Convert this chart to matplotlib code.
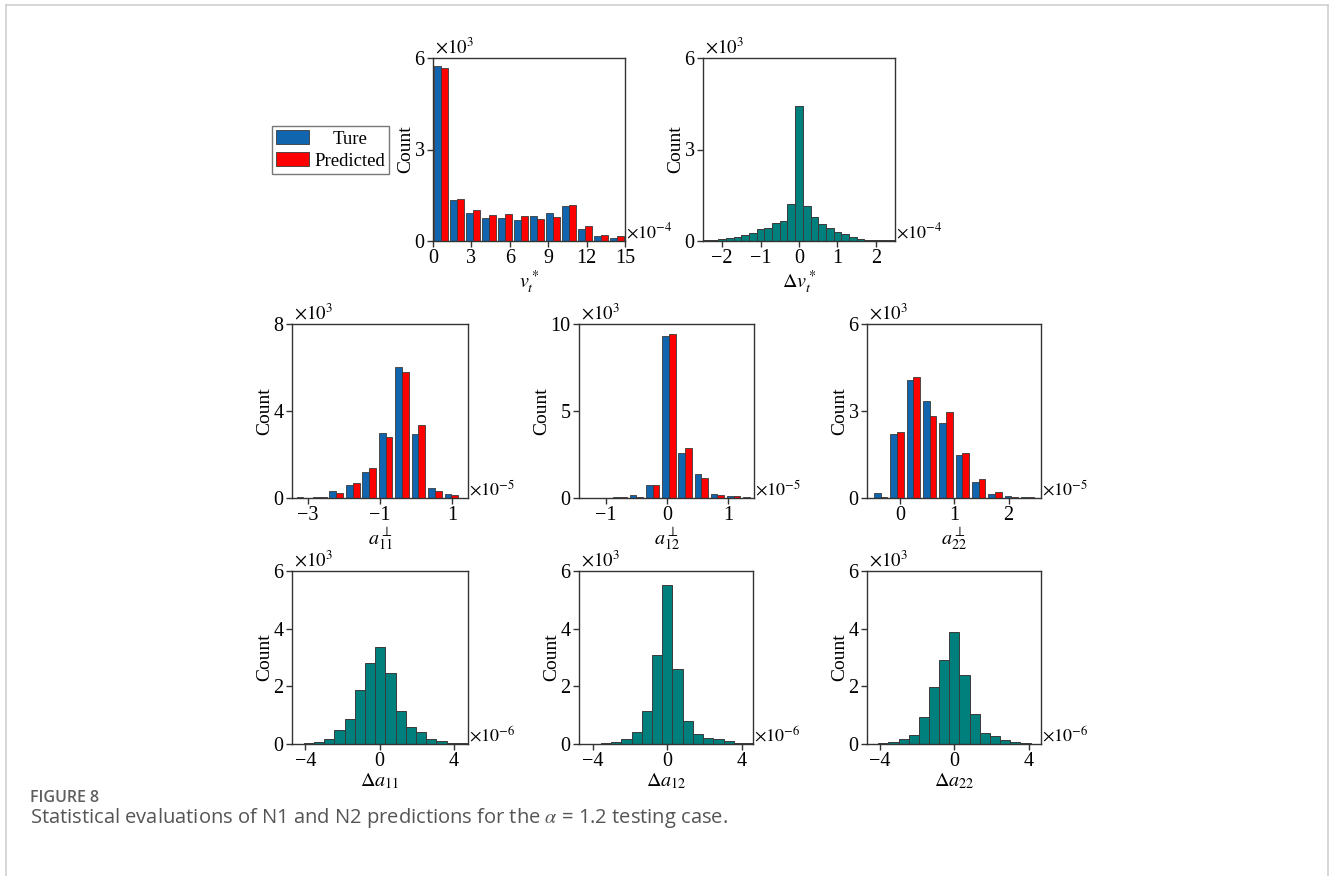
import numpy as np
import matplotlib
matplotlib.use('Agg')
import matplotlib.pyplot as plt
from matplotlib.lines import Line2D
import matplotlib.transforms as mtransforms

plt.rcParams['font.family'] = ['Liberation Serif', 'DejaVu Serif']
plt.rcParams['mathtext.fontset'] = 'stix'
plt.rcParams['font.size'] = 14

W, H = 1330, 876

# ---------------- data (counts in units of 10^3) ----------------
vt_centers = [0.625, 1.875, 3.125, 4.375, 5.625, 6.875, 8.125, 9.375, 10.625, 11.875, 13.125, 14.375]
vt_true = [5.73, 1.36, 0.91, 0.77, 0.74, 0.70, 0.81, 0.91, 1.14, 0.39, 0.15, 0.11]
vt_pred = [5.68, 1.37, 1.02, 0.85, 0.90, 0.82, 0.72, 0.79, 1.17, 0.49, 0.19, 0.17]
vt_binw = 1.25

dvt_centers = [-2.4, -2.2, -2.0, -1.8, -1.6, -1.4, -1.2, -1.0, -0.8, -0.6, -0.4, -0.2, 0.0,
               0.2, 0.4, 0.6, 0.8, 1.0, 1.2, 1.4, 1.6, 1.8, 2.0, 2.2, 2.4]
dvt_counts = [0.02, 0.04, 0.07, 0.10, 0.14, 0.20, 0.25, 0.39, 0.42, 0.58, 0.65, 1.21, 4.44,
              1.15, 0.79, 0.57, 0.42, 0.30, 0.23, 0.13, 0.08, 0.04, 0.04, 0.03, 0.03]
dvt_binw = 0.2

a11_centers = [-3.116, -2.662, -2.208, -1.754, -1.300, -0.846, -0.392, 0.062, 0.516, 0.970]
a11_true = [0.03, 0.03, 0.31, 0.58, 1.21, 3.01, 6.02, 2.92, 0.46, 0.17]
a11_pred = [0.02, 0.03, 0.25, 0.68, 1.40, 2.80, 5.81, 3.35, 0.34, 0.15]
a11_binw = 0.454

a12_centers = [-1.303, -1.037, -0.771, -0.505, -0.239, 0.027, 0.293, 0.559, 0.825, 1.091, 1.357]
a12_true = [0.0, 0.01, 0.03, 0.15, 0.77, 9.31, 2.59, 1.36, 0.23, 0.14, 0.03]
a12_pred = [0.0, 0.01, 0.06, 0.08, 0.75, 9.40, 2.90, 1.17, 0.17, 0.14, 0.02]
a12_binw = 0.266

a22_centers = [-0.363, -0.062, 0.240, 0.541, 0.843, 1.145, 1.446, 1.748, 2.049, 2.351]
a22_true = [0.17, 2.21, 4.07, 3.34, 2.60, 1.50, 0.54, 0.14, 0.07, 0.05]
a22_pred = [0.03, 2.28, 4.17, 2.82, 2.96, 1.54, 0.65, 0.20, 0.05, 0.02]
a22_binw = 0.3015

da11_centers = [-4.365, -3.816, -3.267, -2.718, -2.169, -1.620, -1.071, -0.522, 0.027,
                0.576, 1.125, 1.674, 2.223, 2.772, 3.321, 3.870, 4.419]
da11_counts = [0.01, 0.03, 0.07, 0.18, 0.47, 0.86, 1.88, 2.80, 3.37,
               2.47, 1.15, 0.60, 0.40, 0.17, 0.10, 0.05, 0.02]
da11_binw = 0.549

da12_centers = [-4.40, -3.85, -3.30, -2.75, -2.20, -1.65, -1.10, -0.55, 0.0,
                0.55, 1.10, 1.65, 2.20, 2.75, 3.30, 3.85, 4.40]
da12_counts = [0.005, 0.01, 0.03, 0.08, 0.17, 0.42, 1.15, 3.08, 5.50,
               2.60, 0.80, 0.33, 0.20, 0.17, 0.12, 0.05, 0.02]
da12_binw = 0.55

da22_centers = [-4.36, -3.815, -3.27, -2.725, -2.18, -1.635, -1.09, -0.545, 0.0,
                0.545, 1.09, 1.635, 2.18, 2.725, 3.27, 3.815, 4.36]
da22_counts = [0.01, 0.03, 0.07, 0.17, 0.30, 0.92, 1.98, 2.92, 3.90,
               2.40, 1.03, 0.38, 0.28, 0.15, 0.08, 0.05, 0.01]
da22_binw = 0.545

# ---------------- style ----------------
BLUE = '#1065ae'
RED = '#ff0000'
TEAL = '#00807c'
EDGE = '#3a3a3a'
SPINE = '#333333'

fig = plt.figure(figsize=(W / 100, H / 100), dpi=100)


def make_ax(l, t, r, b):
    return fig.add_axes([l / W, 1 - b / H, (r - l) / W, (b - t) / H])


def style(ax, xlim, xticks, ylim, yticks, xlabel, xexp, yexp=3):
    ax.set_xlim(*xlim)
    ax.set_ylim(*ylim)
    ax.set_xticks(xticks)
    ax.set_yticks(yticks)
    ax.set_xticklabels([f'{v:g}'.replace('-', '\u2212') for v in xticks])
    ax.set_yticklabels([f'{v:g}' for v in yticks])
    for s in ax.spines.values():
        s.set_color(SPINE)
        s.set_linewidth(1.0)
    ax.tick_params(direction='out', length=4, width=1, color=SPINE, labelsize=14.5,
                   top=False, right=False, pad=2)
    ax.set_ylabel('Count', fontsize=14, labelpad=0)
    ax.set_xlabel(xlabel, fontsize=14.5, labelpad=0)
    ax.text(0.01, 1.005, r'$\times10^{%d}$' % yexp, transform=ax.transAxes,
            ha='left', va='bottom', fontsize=13.5)
    ax.text(1.005, 0.05, r'$\times10^{%d}$' % xexp, transform=ax.transAxes,
            ha='left', va='center', fontsize=13)


def grouped(ax, centers, true, pred, binw):
    c = np.asarray(centers)
    bw = 0.415 * binw
    b1 = ax.bar(c - bw / 2, true, width=bw, color=BLUE, edgecolor=EDGE, linewidth=0.6, label='Ture')
    b2 = ax.bar(c + bw / 2, pred, width=bw, color=RED, edgecolor=EDGE, linewidth=0.6, label='Predicted')
    return b1, b2


def single(ax, centers, counts, binw):
    ax.bar(centers, counts, width=binw, color=TEAL, edgecolor=EDGE, linewidth=0.7)


# top row
ax1 = make_ax(433, 58, 625, 241)
b1, b2 = grouped(ax1, vt_centers, vt_true, vt_pred, vt_binw)
style(ax1, (0, 15), [0, 3, 6, 9, 12, 15], (0, 6), [0, 3, 6], r'$v_t^*$', -4)

ax2 = make_ax(703, 58, 895, 241)
single(ax2, dvt_centers, dvt_counts, dvt_binw)
style(ax2, (-2.5, 2.5), [-2, -1, 0, 1, 2], (0, 6), [0, 3, 6], r'$\Delta v_t^*$', -4)

# middle row
ax3 = make_ax(292, 324, 468, 498)
grouped(ax3, a11_centers, a11_true, a11_pred, a11_binw)
style(ax3, (-3.43, 1.43), [-3, -1, 1], (0, 8), [0, 4, 8], r'$a_{11}^{\perp}$', -5)

ax4 = make_ax(579, 324, 754, 498)
grouped(ax4, a12_centers, a12_true, a12_pred, a12_binw)
style(ax4, (-1.447, 1.425), [-1, 0, 1], (0, 10), [0, 5, 10], r'$a_{12}^{\perp}$', -5)

ax5 = make_ax(867, 324, 1041, 498)
grouped(ax5, a22_centers, a22_true, a22_pred, a22_binw)
style(ax5, (-0.615, 2.597), [0, 1, 2], (0, 6), [0, 3, 6], r'$a_{22}^{\perp}$', -5)

# bottom row
ax6 = make_ax(292, 571, 468, 744)
single(ax6, da11_centers, da11_counts, da11_binw)
style(ax6, (-4.72, 4.75), [-4, 0, 4], (0, 6), [0, 2, 4, 6], r'$\Delta a_{11}$', -6)

ax7 = make_ax(579, 571, 753, 744)
single(ax7, da12_centers, da12_counts, da12_binw)
style(ax7, (-4.76, 4.61), [-4, 0, 4], (0, 6), [0, 2, 4, 6], r'$\Delta a_{12}$', -6)

ax8 = make_ax(867, 571, 1041, 744)
single(ax8, da22_centers, da22_counts, da22_binw)
style(ax8, (-4.69, 4.65), [-4, 0, 4], (0, 6), [0, 2, 4, 6], r'$\Delta a_{22}$', -6)

# legend
leg = fig.legend([b1, b2], ['Ture', 'Predicted'], loc='upper left',
                 bbox_to_anchor=(272 / W, 1 - 126 / H), bbox_transform=fig.transFigure,
                 borderaxespad=0, fontsize=13.5, fancybox=False, framealpha=1,
                 edgecolor='#777777', handlelength=1.75, handleheight=0.8,
                 handletextpad=0.3, labelspacing=0.22, borderpad=0.22)
leg.get_frame().set_linewidth(1.0)
renderer = fig.canvas.get_renderer()
fig.canvas.draw()
w0 = leg.texts[0].get_window_extent(renderer).width
w1 = leg.texts[1].get_window_extent(renderer).width
t0 = leg.texts[0]
t0.set_transform(t0.get_transform() + mtransforms.Affine2D().translate((w1 - w0) / 2, 0))

# page border
def px_line(x0, y0, x1, y1):
    fig.add_artist(Line2D([x0 / W, x1 / W], [1 - y0 / H, 1 - y1 / H], transform=fig.transFigure,
                          color='#cfcfcf', linewidth=1.2))

px_line(6, 5, 1328, 5)
px_line(6, 5, 6, 876)
px_line(1328, 5, 1328, 876)

# caption
fig.text(30 / W, 1 - 802 / H, 'FIGURE 8', ha='left', va='baseline',
         family=['Open Sans', 'DejaVu Sans'], weight='semibold', color='#5f5f5f', fontsize=11.5)
fig.text(30 / W, 1 - 823 / H, r'Statistical evaluations of N1 and N2 predictions for the $\alpha$ = 1.2 testing case.',
         ha='left', va='baseline', family=['Open Sans', 'DejaVu Sans'], color='#555555', fontsize=14.5)

fig.savefig('out.png', dpi=100)
